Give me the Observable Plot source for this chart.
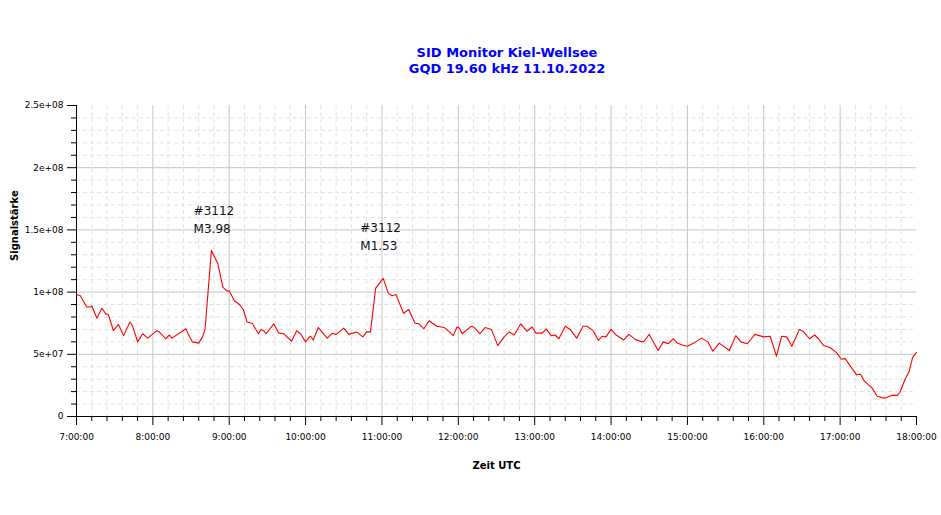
<!DOCTYPE html>
<html><head><meta charset="utf-8">
<script src="https://cdn.jsdelivr.net/npm/d3@7"></script>
<script src="https://cdn.jsdelivr.net/npm/@observablehq/plot@0.6"></script>
<style>
body{margin:0;background:#fff;}
#wrap{position:relative;width:941px;height:515px;background:#fff;}
#title{position:absolute;left:307px;width:400px;top:45px;text-align:center;font:bold 13px "DejaVu Sans",sans-serif;color:#0000ff;line-height:16px;white-space:nowrap;}
</style></head><body>
<div id="wrap"><div id="title">SID Monitor Kiel-Wellsee<br>GQD 19.60 kHz 11.10.2022</div></div>
<script>
// minutes after 07:00 UTC
const minutes = [0,3,8,11,12,16,20,23,25,29,33,37,42,44,48,52,56,63,65,70,73,75,86,87,91,96,99,101,106,111,115,118,120,124,128,131,134,138,143,145,147,149,155,159,163,169,173,176,180,183,184,186,190,197,201,204,210,214,220,225,228,231,235,241,245,248,251,257,261,266,269,273,277,283,289,293,296,299,301,303,310,312,317,321,326,331,336,340,344,349,354,358,361,366,369,373,376,379,384,388,393,398,401,406,410,413,416,420,424,430,434,439,444,446,450,457,461,465,469,472,476,480,485,491,496,500,505,513,518,522,527,533,540,545,550,554,558,562,568,571,576,580,583,587,592,597,601,604,608,613,616,619,625,629,633,636,641,645,647,651,654,657,660];
const signal = [98e6,97e6,88e6,88e6,89e6,79e6,87e6,82.5e6,82e6,69e6,74e6,65e6,76e6,73e6,60e6,66.5e6,63e6,69e6,68e6,62.5e6,65.5e6,63e6,70.5e6,68e6,60e6,59e6,64e6,70e6,133.5e6,123e6,104e6,101e6,101e6,93e6,90e6,86e6,76e6,75e6,66.5e6,70e6,69e6,66.5e6,74.5e6,67e6,66.5e6,60.5e6,69e6,66.5e6,60e6,64e6,64.5e6,61.5e6,71.5e6,63e6,67e6,66e6,71e6,66e6,68e6,64e6,68e6,68e6,103e6,111e6,99e6,97e6,98e6,83e6,86e6,75e6,74.5e6,70.5e6,77e6,72.5e6,71.5e6,68e6,65e6,72e6,71e6,66.5e6,72.5e6,72e6,66.5e6,71.5e6,70e6,57e6,64e6,68e6,65.5e6,74.5e6,68.5e6,72e6,67e6,67e6,70.5e6,65e6,65.5e6,62.5e6,72.5e6,70e6,63e6,72.5e6,72.5e6,69e6,61e6,64.5e6,64e6,70e6,65.5e6,61.5e6,66e6,62e6,60e6,60.5e6,66e6,53e6,60e6,58.5e6,62.5e6,59e6,57.5e6,56.5e6,59e6,63e6,60e6,52.5e6,59e6,53e6,65e6,60e6,58.5e6,66e6,64e6,64.5e6,48.5e6,64.5e6,64e6,56.5e6,70e6,68.5e6,62.5e6,65.5e6,62.5e6,57e6,55.5e6,51.5e6,46e6,46.5e6,40.5e6,33.5e6,34e6,28.5e6,23e6,16.5e6,15e6,15e6,17e6,17e6,19.5e6,30e6,35.5e6,47.5e6,51.5e6];
const xTickLabels = ["7:00:00","8:00:00","9:00:00","10:00:00","11:00:00","12:00:00","13:00:00","14:00:00","15:00:00","16:00:00","17:00:00","18:00:00"];
const yTickValues = [0,5e7,1e8,1.5e8,2e8,2.5e8];
const yTickLabels = ["0","5e+07","1e+08","1.5e+08","2e+08","2.5e+08"];
const annTimes = [92,223];
const annValues = [159e6,146e6];
const annLabels = ["#3112\nM3.98","#3112\nM1.53"];

const t0 = Date.UTC(2022,9,11,7,0);
const toDate = m => new Date(t0 + m*60000);
const data = minutes.map((m,i)=>({time: toDate(m), value: signal[i]}));
const xMajor = xTickLabels.map((_,i)=>toDate(i*60));
const xLabelMap = new Map(xMajor.map((d,i)=>[+d, xTickLabels[i]]));
const yLabelMap = new Map(yTickValues.map((v,i)=>[v, yTickLabels[i]]));
const xMinor = d3.utcMinute.every(12).range(toDate(0), toDate(661)).filter(d=>d.getUTCMinutes()!==0);
const yMinor = d3.range(0, 2.5e8+1, 1e7).filter(v => v % 5e7 !== 0);
const annotations = annTimes.map((m,i)=>({time: toDate(m), value: annValues[i], label: annLabels[i]}));

const chart = Plot.plot({
  width: 941, height: 515,
  marginLeft: 76, marginRight: 25, marginTop: 105, marginBottom: 99,
  style: {fontFamily: "'DejaVu Sans', sans-serif", fontSize: "9px", color: "black", background: "white"},
  x: {type: "utc", domain: [toDate(0), toDate(660)]},
  y: {domain: [0, 2.5e8]},
  marks: [
    Plot.gridX(xMinor, {stroke: "#e2e2e2", strokeOpacity: 1, strokeDasharray: "4,3"}),
    Plot.gridY(yMinor, {stroke: "#e2e2e2", strokeOpacity: 1, strokeDasharray: "4,3"}),
    Plot.gridX(xMajor.slice(1, -1), {stroke: "#c6c6c6", strokeOpacity: 1}),
    Plot.gridY(yTickValues.slice(1, -1), {stroke: "#c6c6c6", strokeOpacity: 1}),
    Plot.axisX(xMajor, {tickSize: 9, tickPadding: 8, tickFormat: d => xLabelMap.get(+d), label: null}),
    Plot.axisX(xMinor, {tickSize: 5, tickFormat: () => "", label: null}),
    Plot.axisY(yTickValues, {tickSize: 9, tickPadding: 4, tickFormat: d => yLabelMap.get(d), label: null}),
    Plot.axisY(yMinor, {tickSize: 5, tickFormat: () => "", label: null}),
    Plot.ruleX([toDate(0)], {stroke: "black"}),
    Plot.ruleY([0], {stroke: "black"}),
    Plot.lineY(data, {x: "time", y: "value", stroke: "#ff0000", strokeWidth: 1.1}),
    Plot.text(annotations, {x: "time", y: "value", text: "label", textAnchor: "start", lineAnchor: "middle", lineHeight: 1.5, fontSize: 12, fill: "#111"}),
    Plot.text(["Signalstärke"], {frameAnchor: "left", dx: -62, rotate: -90, fontWeight: "bold", fontSize: 10}),
    Plot.text(["Zeit UTC"], {frameAnchor: "bottom", dy: 52, fontWeight: "bold", fontSize: 10})
  ]
});
document.getElementById("wrap").appendChild(chart);
</script>
</body></html>
